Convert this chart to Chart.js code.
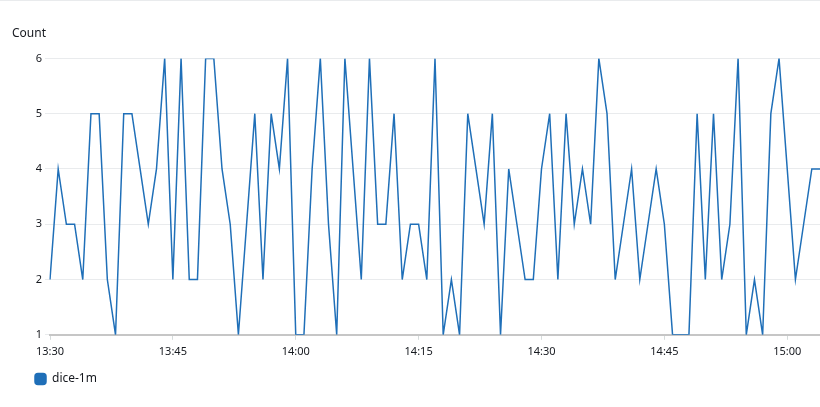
<!DOCTYPE html>
<html>
<head>
<meta charset="utf-8">
<script src="https://cdn.jsdelivr.net/npm/chart.js@4.4.1/dist/chart.umd.min.js"></script>
<style>
  html, body { margin: 0; padding: 0; background: #fff; }
  #wrap { position: relative; width: 820px; height: 407px; border-top: 1px solid #e9ebed; box-sizing: border-box; }
  canvas { display: block; }
</style>
</head>
<body>
<div id="wrap"><canvas id="c" width="820" height="406"></canvas></div>
<script>
// Time axis: one point per minute from 13:30 to 15:04
const startHour = 13, startMinute = 30, pointCount = 95;
const categories = [];
for (let i = 0; i < pointCount; i++) {
  const t = startHour * 60 + startMinute + i;
  categories.push(String(Math.floor(t / 60)).padStart(2, '0') + ':' + String(t % 60).padStart(2, '0'));
}
const seriesName = 'dice-1m';
const diceValues = [
  2, 4, 3, 3, 2, 5, 5, 2, 1, 5, 5, 4, 3, 4, 6, 2, 6, 2, 2, 6, 6, 4, 3, 1, 3, 5, 2, 5, 4, 6, // 13:30-13:59
  1, 1, 4, 6, 3, 1, 6, 4, 2, 6, 3, 3, 5, 2, 3, 3, 2, 6, 1, 2, 1, 5, 4, 3, 5, 1, 4, 3, 2, 2, // 14:00-14:29
  4, 5, 2, 5, 3, 4, 3, 6, 5, 2, 3, 4, 2, 3, 4, 3, 1, 1, 1, 5, 2, 5, 2, 3, 6, 1, 2, 1, 5, 6, // 14:30-14:59
  4, 2, 3, 4, 4                                                                              // 15:00-15:04
];
const xTickLabels = ['13:30', '13:45', '14:00', '14:15', '14:30', '14:45', '15:00'];
const yTickValues = [1, 2, 3, 4, 5, 6];
const yTitle = 'Count';

const fontFamily = '"Noto Sans", "Open Sans", sans-serif';
const textColor = '#16191f';

// shift the legend block right so its first item starts under the y-axis labels
const legendShift = {
  id: 'legendShift',
  afterLayout(chart) {
    if (chart.legend) { chart.legend.left += 13; chart.legend.right += 13; }
  }
};

new Chart(document.getElementById('c'), {
  type: 'line',
  data: {
    labels: categories,
    datasets: [{
      label: seriesName,
      data: diceValues,
      borderColor: '#1f6fb8',
      backgroundColor: '#1f6fb8',
      borderWidth: 1.5,
      pointRadius: 0,
      pointHoverRadius: 0,
      tension: 0,
      fill: false
    }]
  },
  plugins: [legendShift],
  options: {
    responsive: false,
    animation: false,
    events: [],
    layout: { padding: { left: 12, right: 0, top: 0, bottom: 12 } },
    scales: {
      x: {
        type: 'category',
        offset: false,
        grid: { display: true, drawOnChartArea: false, drawTicks: true, tickLength: 5, color: '#d5dbdb' },
        border: { display: true, color: '#c6c6c6', width: 2 },
        ticks: {
          autoSkip: false,
          maxRotation: 0,
          color: textColor,
          font: { family: fontFamily, size: 11 },
          padding: 5,
          callback: function (value, index) {
            const lab = categories[index];
            return xTickLabels.includes(lab) ? lab : null;
          }
        }
      },
      y: {
        min: 1,
        max: 6,
        afterFit: function (scale) { scale.width = 38; },
        afterBuildTicks: function (scale) { scale.ticks = yTickValues.map(v => ({ value: v })); },
        grid: { color: '#e9ebed', drawTicks: true, tickLength: 5, lineWidth: 1 },
        border: { display: false },
        ticks: {
          color: textColor,
          font: { family: fontFamily, size: 11 },
          padding: 3
        }
      }
    },
    plugins: {
      title: {
        display: true,
        text: yTitle,
        align: 'start',
        color: textColor,
        font: { family: fontFamily, size: 12, weight: 'normal' },
        padding: { top: 25, bottom: 18 }
      },
      legend: {
        display: true,
        position: 'bottom',
        align: 'start',
        labels: {
          boxWidth: 11,
          boxHeight: 11,
          useBorderRadius: true,
          borderRadius: 3,
          padding: 10,
          color: textColor,
          font: { family: fontFamily, size: 12 }
        }
      },
      tooltip: { enabled: false }
    }
  }
});
</script>
</body>
</html>
